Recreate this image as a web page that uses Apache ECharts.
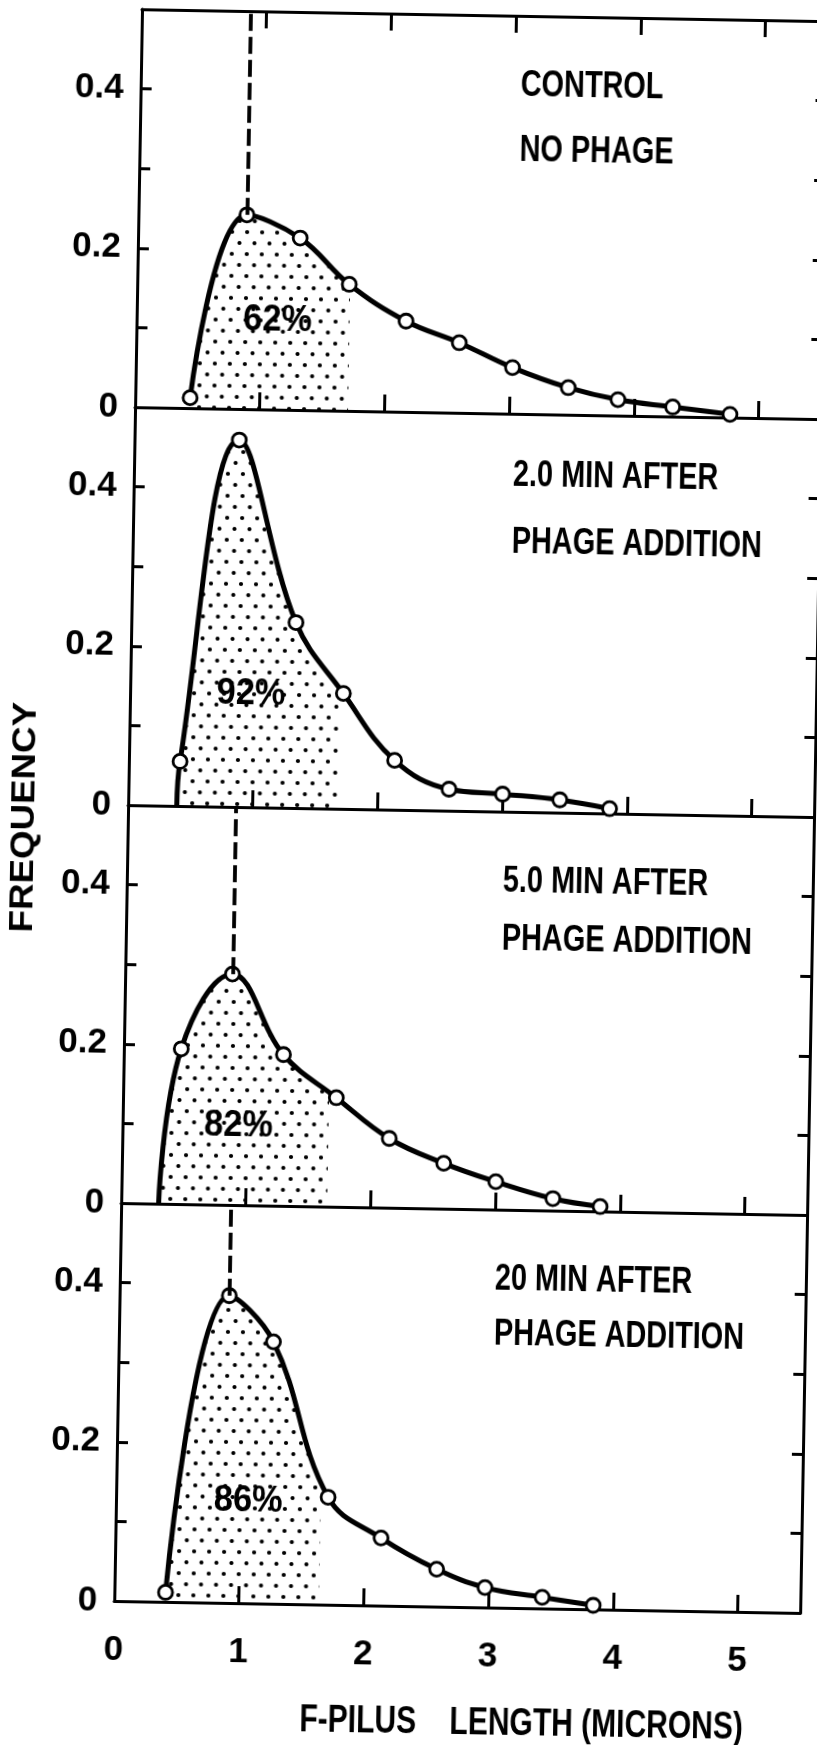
<!DOCTYPE html>
<html>
<head>
<meta charset="utf-8">
<script src="https://cdn.jsdelivr.net/npm/echarts@6/dist/echarts.min.js"></script>
<style>
  html, body { margin: 0; padding: 0; background: #fff; overflow: hidden; }
  #chart {
    position: absolute; left: 0; top: 0; width: 817px; height: 1745px;
    transform: rotate(1deg); transform-origin: 408.5px 872.5px;
  }
</style>
</head>
<body>
<div id="chart"></div>
<script>
// F-pilus length distributions before and after phage addition.
// Lengths in microns, frequencies as fractions of the measured pili.

const panelTitles = [
  ['CONTROL', 'NO PHAGE'],
  ['2.0 MIN AFTER', 'PHAGE ADDITION'],
  ['5.0 MIN AFTER', 'PHAGE ADDITION'],
  ['20 MIN AFTER', 'PHAGE ADDITION']
];
const shadedPercent = ['62%', '92%', '82%', '86%'];

const lengthsControl = [0.44, 0.87, 1.30, 1.70, 2.16, 2.59, 3.02, 3.47, 3.87, 4.31, 4.77];
const freqControl    = [0.013, 0.244, 0.216, 0.159, 0.114, 0.088, 0.058, 0.034, 0.020, 0.012, 0.004];

const lengths2min = [0.41, 0.84, 1.32, 1.71, 2.13, 2.57, 3.00, 3.46, 3.86];
const freq2min    = [0.056, 0.461, 0.233, 0.145, 0.062, 0.027, 0.022, 0.016, 0.006];

const lengths5min = [0.46, 0.86, 1.28, 1.71, 2.14, 2.58, 3.00, 3.46, 3.84];
const freq5min    = [0.195, 0.290, 0.190, 0.137, 0.087, 0.057, 0.035, 0.015, 0.006];

const lengths20min = [0.41, 0.88, 1.24, 1.70, 2.13, 2.58, 2.97, 3.43, 3.84];
const freq20min    = [0.012, 0.386, 0.329, 0.135, 0.085, 0.047, 0.025, 0.014, 0.005];

// where a curve leaves the baseline before its first plotted point (null = starts at the point)
const curveStart = [null, 0.39, 0.30, null];
// right edge of the stippled (shaded) region, microns
const shadedUpTo = [1.70, 1.69, 1.65, 1.64];
// dashed line from the top border down to the mode
const modeMarked = [true, false, true, true];

const xTickLabels = ['0', '1', '2', '3', '4', '5'];
const yTickLabels = ['0', '0.2', '0.4'];
const xAxisTitle = 'F-PILUS    LENGTH (MICRONS)';
const yAxisTitle = 'FREQUENCY';

// ---- layout ----
const L = 127, T = 14, W = 686, PH = 398;
const X_MAX = 5.5, Y_MAX = 0.5;
const PX_PER_MICRON = W / X_MAX;
const SMOOTH = 0.4;
const FONT = 'Liberation Sans';
const titleLeft = [507, 506, 503, 502];
const titleRows = [[70, 135], [62, 129], [70, 128], [70, 125]];
const percentAt = [[1.13, 0.112], [0.97, 0.142], [0.93, 0.100], [1.06, 0.129]];

const panels = [
  { x: lengthsControl, y: freqControl },
  { x: lengths2min, y: freq2min },
  { x: lengths5min, y: freq5min },
  { x: lengths20min, y: freq20min }
];

// stipple used for the shaded region
const dots = document.createElement('canvas');
dots.width = 15; dots.height = 22;
(function () {
  const g = dots.getContext('2d');
  g.fillStyle = '#000';
  [[3.5, 4], [11, 15]].forEach(function (p) {
    g.beginPath(); g.arc(p[0], p[1], 2.1, 0, Math.PI * 2); g.fill();
  });
})();
const stipple = { image: dots, repeat: 'repeat' };

const black = '#000';
const grid = [], xAxis = [], yAxis = [], series = [];

panels.forEach(function (p, i) {
  const top = T + i * PH;
  grid[i] = { left: L, top: top, width: W, height: PH, outerBoundsMode: 'none' };
  grid[4 + i] = { left: L, top: top, width: shadedUpTo[i] * PX_PER_MICRON, height: PH, outerBoundsMode: 'none' };

  xAxis[i] = {
    type: 'value', gridIndex: i, position: 'bottom', min: 0, max: X_MAX, interval: 1,
    axisLine: { show: true, onZero: false, lineStyle: { color: black, width: 3 } },
    axisTick: { show: true, inside: true, length: 17, lineStyle: { color: black, width: 3 } },
    splitLine: { show: false },
    axisLabel: {
      show: i === 3, color: black, fontFamily: FONT, fontWeight: 'bold', fontSize: 35, margin: 32,
      formatter: function (v) { return Number.isInteger(v) ? xTickLabels[v] : ''; }
    }
  };
  xAxis[4 + i] = { type: 'value', gridIndex: 4 + i, min: 0, max: shadedUpTo[i], show: false };

  yAxis[i] = {
    type: 'value', gridIndex: i, position: 'left', min: 0, max: Y_MAX, interval: 0.1,
    axisLine: { show: true, onZero: false, lineStyle: { color: black, width: 3 } },
    axisTick: { show: true, inside: true, length: 11, lineStyle: { color: black, width: 3 } },
    splitLine: { show: false },
    axisLabel: {
      show: true, color: black, fontFamily: FONT, fontWeight: 'bold', fontSize: 35, margin: 17,
      formatter: function (v) {
        const k = Math.round(v * 10);
        return k === 0 ? yTickLabels[0] : k === 2 ? yTickLabels[1] : k === 4 ? yTickLabels[2] : '';
      }
    }
  };
  yAxis[4 + i] = {
    type: 'value', gridIndex: i, position: 'right', min: 0, max: Y_MAX, interval: 0.1,
    axisLine: { show: true, onZero: false, lineStyle: { color: black, width: 3 } },
    axisTick: { show: true, inside: true, length: 11, lineStyle: { color: black, width: 3 } },
    splitLine: { show: false }, axisLabel: { show: false }
  };
  yAxis[8 + i] = { type: 'value', gridIndex: 4 + i, min: 0, max: Y_MAX, show: false };

  const pts = p.x.map(function (x, k) { return [x, p.y[k]]; });
  const curve = (curveStart[i] === null ? [] : [{ value: [curveStart[i], 0], symbol: 'none' }]).concat(pts);
  const shadeData = (curveStart[i] === null ? [] : [[curveStart[i], 0]]).concat(pts);

  series.push({
    type: 'line', xAxisIndex: 4 + i, yAxisIndex: 8 + i, data: shadeData,
    smooth: SMOOTH, symbol: 'none', silent: true, z: 1,
    lineStyle: { width: 0, opacity: 0 },
    areaStyle: { color: stipple, opacity: 1 }
  });

  const s = {
    type: 'line', xAxisIndex: i, yAxisIndex: i, data: curve,
    smooth: SMOOTH, symbol: 'circle', symbolSize: 14, showSymbol: true, z: 3,
    lineStyle: { color: black, width: 5 },
    itemStyle: { color: '#fff', borderColor: black, borderWidth: 2.8 }
  };
  if (modeMarked[i]) {
    const peak = pts.reduce(function (a, b) { return b[1] > a[1] ? b : a; });
    s.markLine = {
      silent: true, symbol: ['none', 'none'], label: { show: false },
      lineStyle: { color: black, width: 3.8, type: [17, 6] },
      data: [[{ coord: [peak[0], peak[1]] }, { coord: [peak[0], Y_MAX] }]]
    };
  }
  series.push(s);
});

// top border ticks of the first panel
xAxis[8] = {
  type: 'value', gridIndex: 0, position: 'top', min: 0, max: X_MAX, interval: 1,
  axisLine: { show: true, onZero: false, lineStyle: { color: black, width: 3 } },
  axisTick: { show: true, inside: true, length: 17, lineStyle: { color: black, width: 3 } },
  splitLine: { show: false }, axisLabel: { show: false }
};

const chart = echarts.init(document.getElementById('chart'), null, { renderer: 'canvas' });
chart.setOption({ animation: false, backgroundColor: '#fff', grid: grid, xAxis: xAxis, yAxis: yAxis, series: series });

function text(x, y, str, size, extra) {
  extra = extra || {};
  const weight = extra.weight || 'bold';
  return {
    type: 'text', x: x, y: y, z: 10, silent: true,
    scaleX: extra.scaleX || 1, rotation: extra.rotation || 0,
    style: {
      text: str, fill: black,
      font: weight + ' ' + size + 'px "' + FONT + '"',
      fontFamily: FONT, fontSize: size, fontWeight: weight,
      textAlign: extra.align || 'left', align: extra.align || 'left',
      textVerticalAlign: 'middle', verticalAlign: 'middle'
    }
  };
}

const labels = [];
panelTitles.forEach(function (lines, i) {
  const top = T + i * PH;
  lines.forEach(function (line, r) {
    labels.push(text(titleLeft[i], top + titleRows[i][r], line, 37, { scaleX: 0.78 }));
  });
  const c = chart.convertToPixel({ xAxisIndex: i, yAxisIndex: i }, percentAt[i]);
  labels.push(text(c[0], c[1], shadedPercent[i], 37, { align: 'center', scaleX: 0.93 }));
});
labels.push(text(24, 824, yAxisTitle, 34, { align: 'center', rotation: Math.PI / 2, scaleX: 1.08 }));
labels.push(text(536, 1723, xAxisTitle, 38, { align: 'center', scaleX: 0.79 }));

chart.setOption({ graphic: { elements: labels } });
</script>
</body>
</html>
